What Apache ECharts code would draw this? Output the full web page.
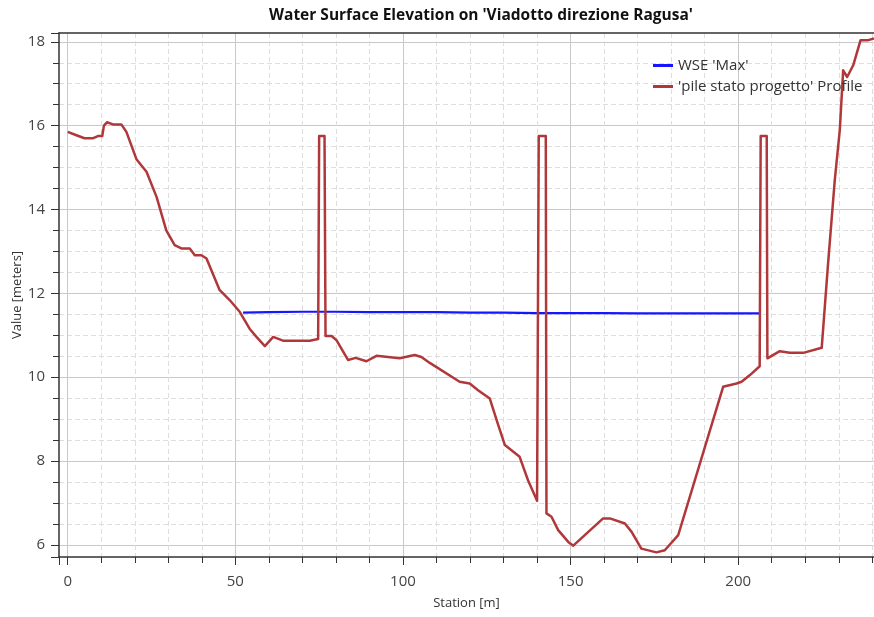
<!DOCTYPE html>
<html>
<head>
<meta charset="utf-8">
<title>Water Surface Elevation</title>
<script src="https://cdn.jsdelivr.net/npm/echarts@6/dist/echarts.min.js"></script>
<style>
  html, body { margin: 0; padding: 0; background: #fff; }
  #chart { width: 874px; height: 617px; }
</style>
</head>
<body>
<div id="chart"></div>
<script>
// profile of the ground / piles (station [m], elevation [m])
const profileStation = [0, 2.6, 5, 7.6, 9, 10.3, 10.8, 11.7, 13.5, 16, 17.5, 20.5, 23.5, 26.5, 29.4, 31.9, 33.9, 36.4, 37.9, 39.9,
  41.4, 45.3, 48.3, 51.3, 54.3, 56.3, 58.8, 61.3, 64.2, 72.2, 74.7, 75.0, 76.6, 76.9, 78.7, 80.2, 83.6, 85.9, 89.1, 92.1,
  99, 103.5, 105.5, 108, 116.9, 119.9, 122.4, 125.9, 128.4, 130.4, 134.8, 137.3, 140.0, 140.5, 142.6, 142.8, 144.3, 146.3, 149.3, 150.8,
  159.7, 161.7, 166.2, 168.2, 171.1, 175.6, 178.1, 182.1, 195.5, 199.5, 201, 203.5, 206.4, 206.7, 208.5, 208.7, 212.4, 215.4, 219.4, 224.9,
  226.8, 228.8, 230.3, 231.3, 232.5, 234.3, 236.5, 238.8, 240.5]
const profileElev = [15.85, 15.77, 15.7, 15.7, 15.75, 15.75, 16.0, 16.08, 16.03, 16.03, 15.85, 15.2, 14.9, 14.3, 13.5, 13.15, 13.07, 13.07, 12.91, 12.91,
  12.83, 12.08, 11.84, 11.56, 11.15, 10.96, 10.74, 10.96, 10.87, 10.87, 10.91, 15.75, 15.75, 10.98, 10.98, 10.88, 10.41, 10.46, 10.38, 10.51,
  10.45, 10.53, 10.48, 10.34, 9.89, 9.85, 9.69, 9.49, 8.86, 8.38, 8.1, 7.54, 7.05, 15.75, 15.75, 6.75, 6.67, 6.35, 6.07, 5.98,
  6.63, 6.63, 6.51, 6.31, 5.91, 5.82, 5.87, 6.23, 9.77, 9.85, 9.89, 10.05, 10.26, 15.75, 15.75, 10.45, 10.62, 10.58, 10.58, 10.7,
  12.71, 14.7, 15.9, 17.32, 17.16, 17.44, 18.04, 18.04, 18.08]

// WSE 'Max'
const wseStation = [52.3, 60, 70, 80, 90, 100, 110, 120, 130, 140, 150, 160, 170, 180, 190, 200, 206.4]
const wseElev = [11.54, 11.55, 11.56, 11.56, 11.55, 11.55, 11.55, 11.54, 11.54, 11.53, 11.53, 11.53, 11.52, 11.52, 11.52, 11.52, 11.52]

const seriesNames = ["WSE 'Max'", "'pile stato progetto' Profile"]

const chart = echarts.init(document.getElementById('chart'))
const textFont = '"Open Sans", "Noto Sans", sans-serif'

const option = {
  animation: false,
  title: {
    text: "Water Surface Elevation on 'Viadotto direzione Ragusa'",
    left: 476,
    top: 3,
    textAlign: 'center',
    textStyle: { fontFamily: textFont, fontSize: 15.5, fontWeight: 'bold', color: '#111' }
  },
  legend: {
    orient: 'vertical',
    left: 648,
    top: 53,
    itemGap: 6,
    itemWidth: 20,
    itemHeight: 3,
    icon: 'rect',
    textStyle: { fontFamily: textFont, fontSize: 15, color: '#333' },
    data: seriesNames
  },
  grid: {
    left: 59,
    top: 33,
    right: 0,
    bottom: 60,
    containLabel: false,
    outerBoundsMode: 'none'
  },
  xAxis: [
    {
      type: 'value',
      min: -2.6,
      max: 240.5,
      splitNumber: 5,
      name: 'Station [m]',
      nameLocation: 'middle',
      nameGap: 40,
      nameMoveOverlap: false,
      nameTextStyle: { fontFamily: textFont, fontSize: 13, color: '#333' },
      axisLine: { onZero: false, lineStyle: { color: '#333', width: 1.5 } },
      axisTick: { length: 8, lineStyle: { color: '#333' } },
      minorTick: { show: true, splitNumber: 5, length: 6, lineStyle: { color: '#333' } },
      axisLabel: { showMinLabel: false, showMaxLabel: false, margin: 17, fontFamily: textFont, fontSize: 15, color: '#444' },
      splitLine: { show: true, showMinLine: false, showMaxLine: false, lineStyle: { color: '#c8c8c8', width: 1 } },
      minorSplitLine: { show: true, lineStyle: { color: '#dedede', type: [5, 3] } }
    },
    {
      // top border of the plot
      type: 'value',
      position: 'top',
      min: -2.6,
      max: 240.5,
      axisLine: { show: true, lineStyle: { color: '#333', width: 1.5 } },
      axisTick: { show: false },
      axisLabel: { show: false },
      splitLine: { show: false }
    }
  ],
  yAxis: {
    type: 'value',
    min: 5.71,
    max: 18.21,
    splitNumber: 6,
    name: 'Value [meters]',
    nameLocation: 'middle',
    nameGap: 35,
    nameMoveOverlap: false,
    nameTextStyle: { fontFamily: textFont, fontSize: 13, color: '#333' },
    axisLine: { show: true, onZero: false, lineStyle: { color: '#333', width: 1.5 } },
    axisTick: { show: true, length: 8, lineStyle: { color: '#333' } },
    minorTick: { show: true, splitNumber: 4, length: 6, lineStyle: { color: '#333' } },
    axisLabel: { showMinLabel: false, showMaxLabel: false, margin: 14, fontFamily: textFont, fontSize: 15, color: '#444' },
    splitLine: { show: true, showMinLine: false, showMaxLine: false, lineStyle: { color: '#c8c8c8', width: 1 } },
    minorSplitLine: { show: true, lineStyle: { color: '#dedede', type: [5, 3] } }
  },
  series: [
    {
      name: seriesNames[0],
      type: 'line',
      showSymbol: false,
      itemStyle: { color: '#1515ff' },
      lineStyle: { color: '#1515ff', width: 2.2 },
      data: wseStation.map((s, i) => [s, wseElev[i]])
    },
    {
      name: seriesNames[1],
      type: 'line',
      showSymbol: false,
      itemStyle: { color: '#b0383a' },
      lineStyle: { color: '#b0383a', width: 2.5, join: 'round' },
      data: profileStation.map((s, i) => [s, profileElev[i]])
    }
  ]
}

chart.setOption(option)
</script>
</body>
</html>
